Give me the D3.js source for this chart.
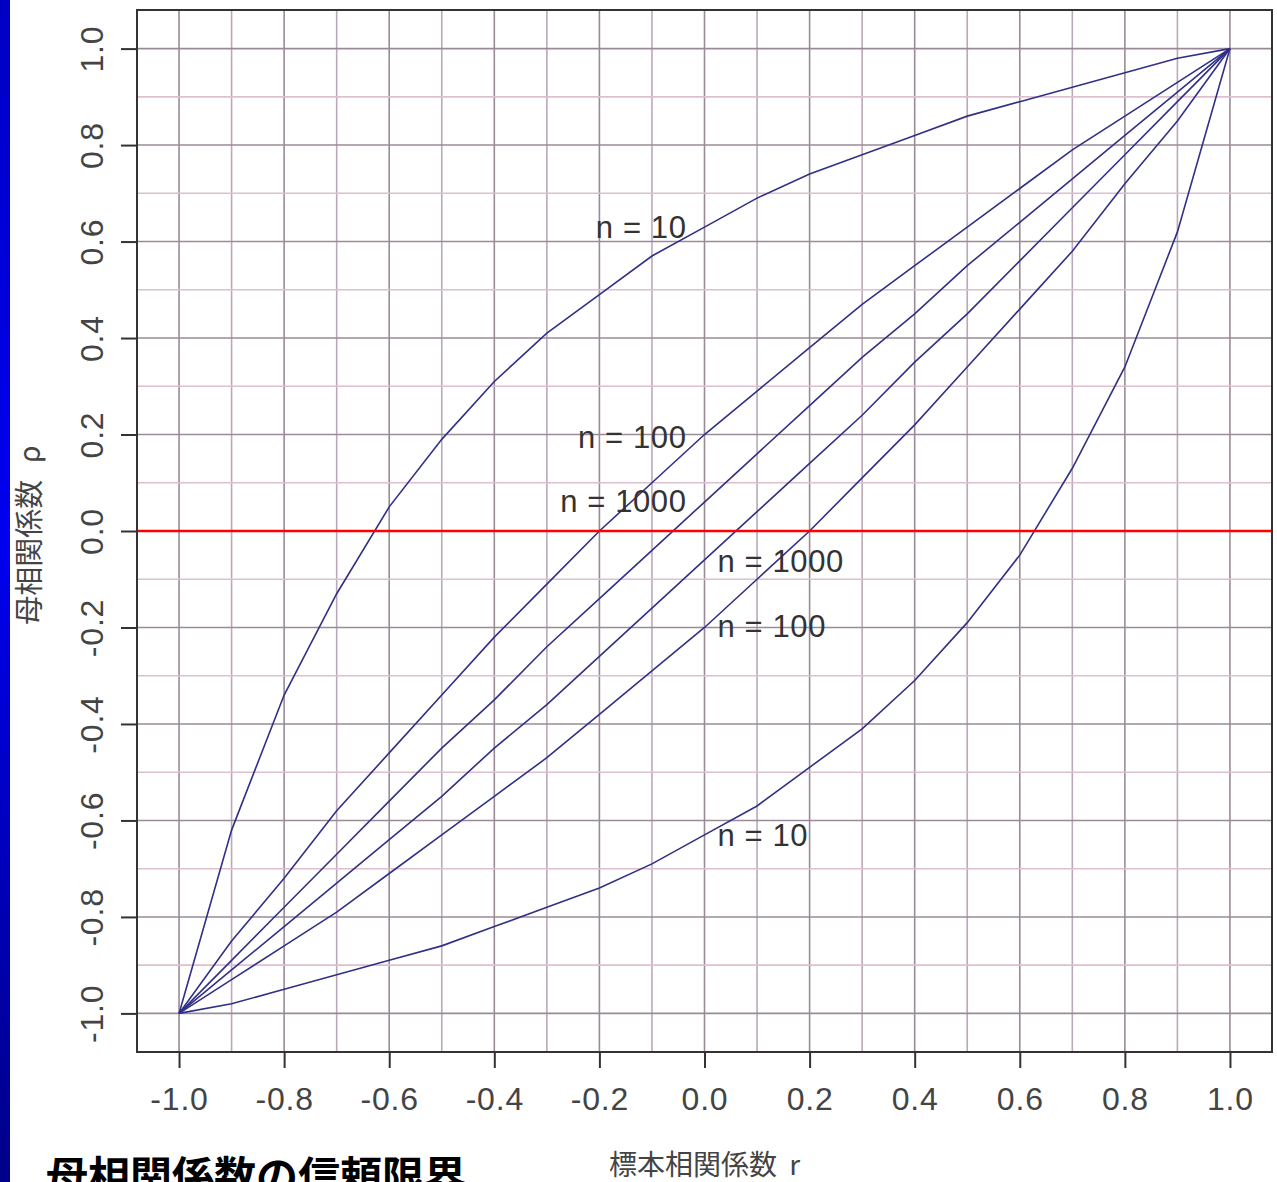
<!DOCTYPE html>
<html>
<head>
<meta charset="utf-8">
<script src="https://cdn.jsdelivr.net/npm/d3@7"></script>
<style>
  body { margin: 0; background: #fff; overflow: hidden; }
  svg { display: block; }
  .num { font-family: "Liberation Sans", Arial, sans-serif; }
  .jp { font-family: "Noto Sans CJK JP", sans-serif; }
</style>
</head>
<body>
<div id="chart"></div>
<script>
// confidence limits of the population correlation coefficient rho
var rValues = [-1.0, -0.9, -0.8, -0.7, -0.6, -0.5, -0.4, -0.3, -0.2, -0.1, 0.0,
               0.1, 0.2, 0.3, 0.4, 0.5, 0.6, 0.7, 0.8, 0.9, 1.0];

var upper10   = [-1.00, -0.62, -0.34, -0.13, 0.05, 0.19, 0.31, 0.41, 0.49, 0.57, 0.63, 0.69, 0.74, 0.78, 0.82, 0.86, 0.89, 0.92, 0.95, 0.98, 1.00];
var lower10   = [-1.00, -0.98, -0.95, -0.92, -0.89, -0.86, -0.82, -0.78, -0.74, -0.69, -0.63, -0.57, -0.49, -0.41, -0.31, -0.19, -0.05, 0.13, 0.34, 0.62, 1.00];
var upper100  = [-1.00, -0.85, -0.72, -0.58, -0.46, -0.34, -0.22, -0.11, 0.00, 0.10, 0.20, 0.29, 0.38, 0.47, 0.55, 0.63, 0.71, 0.79, 0.86, 0.93, 1.00];
var lower100  = [-1.00, -0.93, -0.86, -0.79, -0.71, -0.63, -0.55, -0.47, -0.38, -0.29, -0.20, -0.10, 0.00, 0.11, 0.22, 0.34, 0.46, 0.58, 0.72, 0.85, 1.00];
var upper1000 = [-1.00, -0.89, -0.78, -0.67, -0.56, -0.45, -0.35, -0.24, -0.14, -0.04, 0.06, 0.16, 0.26, 0.36, 0.45, 0.55, 0.64, 0.73, 0.82, 0.91, 1.00];
var lower1000 = [-1.00, -0.91, -0.82, -0.73, -0.64, -0.55, -0.45, -0.36, -0.26, -0.16, -0.06, 0.04, 0.14, 0.24, 0.35, 0.45, 0.56, 0.67, 0.78, 0.89, 1.00];

var curves = [upper10, upper100, upper1000, lower1000, lower100, lower10];

// the n labels sit at r = 0, at the height of their curve
var labelTexts = ["n = 10", "n = 100", "n = 1000", "n = 1000", "n = 100", "n = 10"];
var labelRho   = [0.63, 0.196, 0.062, -0.062, -0.196, -0.63];
var labelSide  = ["left", "left", "left", "right", "right", "right"];

var tickValues = [-1.0, -0.8, -0.6, -0.4, -0.2, 0.0, 0.2, 0.4, 0.6, 0.8, 1.0];
var gridValues = [-1.0, -0.9, -0.8, -0.7, -0.6, -0.5, -0.4, -0.3, -0.2, -0.1, 0.0,
                  0.1, 0.2, 0.3, 0.4, 0.5, 0.6, 0.7, 0.8, 0.9, 1.0];

var xTitle = "標本相関係数 r";
var yTitle = "母相関係数 ρ";
var mainTitle = "母相関係数の信頼限界";

var width = 1277, height = 1182;
var plotLeft = 137, plotRight = 1272, plotTop = 10, plotBottom = 1052;

var svg = d3.select("#chart").append("svg")
    .attr("width", width).attr("height", height);

// blue bar on the left edge of the slide
var grad = svg.append("defs").append("linearGradient")
    .attr("id", "bar").attr("x1", 0).attr("y1", 0).attr("x2", 0).attr("y2", 1);
grad.append("stop").attr("offset", "0%").attr("stop-color", "#0000c4");
grad.append("stop").attr("offset", "45%").attr("stop-color", "#0000f0");
grad.append("stop").attr("offset", "100%").attr("stop-color", "#000088");
svg.append("rect").attr("x", 0).attr("y", 0).attr("width", 10).attr("height", height)
    .attr("fill", "url(#bar)");

var xScale = d3.scaleLinear().domain([-1.08, 1.08]).range([plotLeft, plotRight]);
var yScale = d3.scaleLinear().domain([-1.08, 1.08]).range([plotBottom, plotTop]);

function isMajor(v) { return Math.abs(Math.round(v * 10)) % 2 == 0; }
function fmt(v) { return v.toFixed(1); }   // plain hyphen, not the unicode minus

// grid
var grid = svg.append("g").attr("class", "grid");
grid.selectAll(".gx").data(gridValues).enter().append("line")
    .attr("x1", function(d) { return xScale(d); }).attr("x2", function(d) { return xScale(d); })
    .attr("y1", plotTop).attr("y2", plotBottom)
    .attr("stroke", function(d) { return isMajor(d) ? "#9a8a98" : "#bba8b8"; })
    .attr("stroke-width", 1.6);
grid.selectAll(".gy").data(gridValues).enter().append("line")
    .attr("y1", function(d) { return yScale(d); }).attr("y2", function(d) { return yScale(d); })
    .attr("x1", plotLeft).attr("x2", plotRight)
    .attr("stroke", function(d) { return isMajor(d) ? "#9a8a98" : "#dcc0cf"; })
    .attr("stroke-width", 1.6);

// curves
var line = d3.line()
    .x(function(d, i) { return xScale(rValues[i]); })
    .y(function(d) { return yScale(d); });

svg.append("g").selectAll("path").data(curves).enter().append("path")
    .attr("d", line)
    .attr("fill", "none")
    .attr("stroke", "#303086")
    .attr("stroke-width", 1.6);

// rho = 0
svg.append("line")
    .attr("x1", plotLeft).attr("x2", plotRight)
    .attr("y1", yScale(0)).attr("y2", yScale(0))
    .attr("stroke", "#ff0000").attr("stroke-width", 2.5);

// n labels
svg.append("g").selectAll("text").data(labelTexts).enter().append("text")
    .attr("class", "num")
    .attr("x", function(d, i) { return xScale(0) + (labelSide[i] == "left" ? -18 : 13); })
    .attr("y", function(d, i) { return yScale(labelRho[i]); })
    .attr("dy", "0.36em")
    .attr("text-anchor", function(d, i) { return labelSide[i] == "left" ? "end" : "start"; })
    .style("font-size", "31px")
    .style("letter-spacing", "0.6px")
    .attr("fill", "#333")
    .text(function(d) { return d; });

// axes
var xAxis = d3.axisBottom(xScale).tickValues(tickValues).tickFormat(fmt)
    .tickSize(16).tickPadding(19);
var yAxis = d3.axisLeft(yScale).tickValues(tickValues).tickFormat(fmt)
    .tickSize(16);

var gx = svg.append("g").attr("transform", "translate(0," + plotBottom + ")").call(xAxis);
gx.attr("font-family", null).attr("font-size", null);
gx.select(".domain").remove();
gx.selectAll("line").attr("stroke", "#333").attr("stroke-width", 2);
gx.selectAll("text").attr("class", "num").attr("fill", "#444")
    .style("font-size", "32px").style("letter-spacing", "0.8px");

var gy = svg.append("g").attr("transform", "translate(" + plotLeft + ",0)").call(yAxis);
gy.attr("font-family", null).attr("font-size", null);
gy.select(".domain").remove();
gy.selectAll("line").attr("stroke", "#333").attr("stroke-width", 2);
gy.selectAll("text").attr("class", "num").attr("fill", "#444")
    .attr("x", null).attr("dy", null)
    .attr("text-anchor", "middle")
    .attr("transform", "translate(-34,0) rotate(-90)")
    .style("font-size", "32px").style("letter-spacing", "0.8px");

// plot box
svg.append("rect")
    .attr("x", plotLeft).attr("y", plotTop)
    .attr("width", plotRight - plotLeft).attr("height", plotBottom - plotTop)
    .attr("fill", "none").attr("stroke", "#333").attr("stroke-width", 2);

// axis titles
svg.append("text").attr("class", "jp")
    .attr("x", (plotLeft + plotRight) / 2).attr("y", 1175)
    .attr("text-anchor", "middle")
    .style("font-size", "28px").style("word-spacing", "6px")
    .attr("fill", "#444")
    .text(xTitle);

svg.append("text").attr("class", "jp")
    .attr("transform", "translate(40," + ((plotTop + plotBottom) / 2 + 4) + ") rotate(-90)")
    .attr("text-anchor", "middle")
    .style("font-size", "29px").style("word-spacing", "10px")
    .attr("fill", "#444")
    .text(yTitle);

// slide title, cut at the bottom of the picture as in the slide
svg.append("text").attr("class", "jp")
    .attr("x", 46).attr("y", 1192)
    .style("font-size", "42px").style("font-weight", "bold")
    .attr("fill", "#000")
    .text(mainTitle);
</script>
</body>
</html>
